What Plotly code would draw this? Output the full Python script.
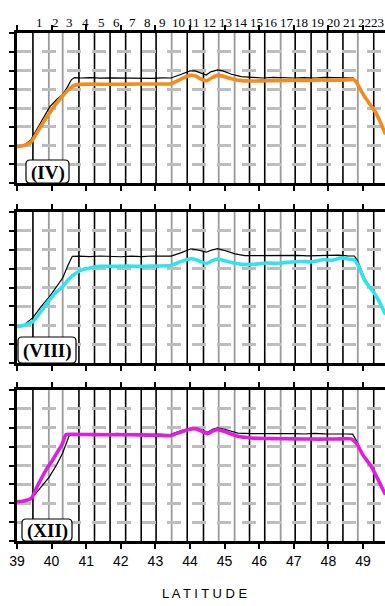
import plotly.graph_objects as go

# ---------------- data ----------------
# station latitudes (numbered 1..23 along the top) and line shade
station_lat = [39.46, 39.92, 40.32, 40.79, 41.24, 41.69, 42.14, 42.59, 43.02, 43.47,
               43.92, 44.39, 44.83, 45.29, 45.72, 46.16, 46.62, 47.04, 47.50, 47.97,
               48.42, 48.85, 49.31]
station_shade = ["k", "g", "g", "k", "k", "k", "k", "k", "k", "g",
                 "k", "k", "g", "g", "k", "k", "g", "k", "k", "k",
                 "k", "g", "k"]
station_num = [str(i) for i in range(1, 24)]

lat_ticks = [39, 40, 41, 42, 43, 44, 45, 46, 47, 48, 49]

# (IV) April
iv_lat = [39.00, 39.20, 39.40, 39.60, 39.80, 39.95, 40.10, 40.30, 40.50, 40.65, 40.80,
          41.50, 42.00, 42.50, 43.00, 43.45, 43.75, 44.00, 44.15, 44.30, 44.48, 44.62,
          44.80, 44.95, 45.20, 45.50, 45.80, 46.20, 46.60, 47.00, 47.40, 47.80, 48.20,
          48.50, 48.72, 48.80, 48.95, 49.05, 49.20, 49.38, 49.50, 49.65]
iv_val = [1.94, 2.00, 2.18, 2.75, 3.35, 3.75, 4.15, 4.60, 5.00, 5.20, 5.26,
          5.27, 5.27, 5.28, 5.28, 5.30, 5.55, 5.74, 5.72, 5.56, 5.45, 5.60,
          5.74, 5.70, 5.56, 5.46, 5.44, 5.45, 5.46, 5.48, 5.47, 5.49, 5.48,
          5.50, 5.52, 5.40, 4.90, 4.60, 4.20, 3.72, 3.25, 2.60]
iv_ref_lat = [39.00, 39.20, 39.40, 39.60, 39.80, 39.95, 40.15, 40.32, 40.45, 40.57, 40.66,
              40.85, 41.10, 41.40, 41.70, 42.00, 42.30, 42.60, 42.90, 43.20, 43.45,
              43.75, 44.00, 44.15, 44.30, 44.47, 44.60, 44.80, 44.95, 45.20, 45.48,
              45.80, 46.10, 46.40, 46.70, 47.00, 47.30, 47.60, 47.90, 48.20, 48.50,
              48.72, 48.80, 48.95, 49.05, 49.20, 49.38, 49.50, 49.65]
iv_ref_val = [1.94, 2.02, 2.30, 2.95, 3.55, 4.07, 4.45, 4.72, 5.10, 5.50, 5.62,
              5.60, 5.62, 5.59, 5.61, 5.60, 5.63, 5.60, 5.58, 5.61, 5.60,
              5.80, 5.98, 5.98, 5.88, 5.76, 5.93, 6.03, 5.98, 5.80, 5.67,
              5.62, 5.60, 5.63, 5.61, 5.60, 5.62, 5.60, 5.63, 5.61, 5.60,
              5.60, 5.42, 4.92, 4.60, 4.20, 3.72, 3.25, 2.60]

# (VIII) August
viii_lat = [39.00, 39.20, 39.46, 39.70, 39.94, 40.10, 40.32, 40.50, 40.71, 40.90, 41.10,
            41.38, 41.80, 42.20, 42.60, 43.00, 43.43, 43.70, 44.03, 44.20, 44.47, 44.62,
            44.80, 45.00, 45.30, 45.67, 46.00, 46.20, 46.50, 46.80, 47.20, 47.50, 47.89,
            48.10, 48.37, 48.60, 48.75, 48.85, 49.04, 49.20, 49.33, 49.50, 49.65]
viii_val = [1.92, 2.00, 2.19, 2.75, 3.34, 3.70, 4.05, 4.45, 4.77, 4.95, 5.03,
            5.12, 5.12, 5.13, 5.12, 5.14, 5.16, 5.35, 5.52, 5.46, 5.27, 5.40,
            5.51, 5.42, 5.28, 5.21, 5.26, 5.30, 5.28, 5.33, 5.38, 5.36, 5.48,
            5.44, 5.57, 5.50, 5.46, 5.20, 4.41, 4.00, 3.70, 3.15, 2.55]
viii_ref_lat = [39.00, 39.20, 39.46, 39.70, 39.94, 40.15, 40.32, 40.48, 40.60, 40.80,
                41.10, 41.40, 41.70, 42.00, 42.30, 42.60, 42.90, 43.20, 43.46, 43.75,
                44.03, 44.20, 44.47, 44.62, 44.80, 45.00, 45.30, 45.58, 45.90, 46.20,
                46.50, 46.80, 47.10, 47.40, 47.70, 48.00, 48.30, 48.55, 48.75, 48.85,
                49.04, 49.20, 49.33, 49.50, 49.65]
viii_ref_val = [1.92, 2.02, 2.40, 3.00, 3.52, 4.05, 4.50, 5.20, 5.65, 5.66,
                5.64, 5.67, 5.65, 5.63, 5.66, 5.64, 5.67, 5.65, 5.66, 5.85,
                6.05, 6.00, 5.87, 5.98, 6.06, 5.96, 5.78, 5.69, 5.70, 5.68,
                5.71, 5.69, 5.70, 5.68, 5.70, 5.69, 5.71, 5.68, 5.67, 5.40,
                4.50, 4.02, 3.70, 3.15, 2.55]

# (XII) December
xii_lat = [39.00, 39.20, 39.41, 39.60, 39.84, 40.00, 40.18, 40.30, 40.42, 40.60, 41.00,
           41.50, 42.00, 42.50, 43.00, 43.43, 43.70, 43.99, 44.18, 44.35, 44.51, 44.65,
           44.80, 45.00, 45.38, 45.77, 46.20, 46.60, 47.00, 47.50, 48.00, 48.40, 48.66,
           48.80, 49.00, 49.24, 49.45, 49.65]
xii_val = [2.08, 2.12, 2.26, 2.95, 3.77, 4.20, 4.75, 5.10, 5.64, 5.65, 5.64,
           5.63, 5.63, 5.62, 5.60, 5.58, 5.75, 5.92, 5.94, 5.80, 5.69, 5.82,
           5.90, 5.80, 5.55, 5.46, 5.43, 5.42, 5.41, 5.40, 5.40, 5.41, 5.41,
           5.20, 4.55, 3.95, 3.20, 2.45]
xii_ref_lat = [39.00, 39.20, 39.41, 39.70, 39.94, 40.15, 40.32, 40.52, 40.70, 41.00,
               41.30, 41.60, 41.90, 42.20, 42.50, 42.80, 43.10, 43.43, 43.70, 43.99,
               44.18, 44.35, 44.51, 44.65, 44.80, 45.00, 45.38, 45.77, 46.10, 46.40,
               46.70, 47.00, 47.30, 47.60, 47.90, 48.20, 48.50, 48.70, 48.80, 49.00,
               49.24, 49.45, 49.65]
xii_ref_val = [2.08, 2.10, 2.22, 2.90, 3.41, 4.05, 4.66, 5.64, 5.68, 5.66,
               5.69, 5.67, 5.70, 5.66, 5.68, 5.65, 5.67, 5.64, 5.82, 5.97,
               6.00, 5.88, 5.76, 5.92, 6.00, 5.92, 5.72, 5.69, 5.70, 5.68,
               5.70, 5.69, 5.67, 5.70, 5.68, 5.69, 5.67, 5.66, 5.35, 4.60,
               3.97, 3.20, 2.45]

panels = [
    ("(IV)", iv_lat, iv_val, iv_ref_lat, iv_ref_val, "#F28C1E"),
    ("(VIII)", viii_lat, viii_val, viii_ref_lat, viii_ref_val, "#2FE4EE"),
    ("(XII)", xii_lat, xii_val, xii_ref_lat, xii_ref_val, "#DF1FDF"),
]

# ---------------- layout geometry (pixels) ----------------
W, H = 385, 606
ML = 17
PW = W - ML
PX_PER_DEG = 34.6
x_range = [39, 39 + PW / PX_PER_DEG]
panel_px = [(33, 183), (212, 363), (390, 541)]
label_boxes = [(26, 160, 69, 183), (18, 337, 76, 363), (22, 519, 72, 541)]


def px_x(x):
    return (x - ML) / PW


def px_y(y):
    return 1 - y / H


def rounded_box(x0, y0, x1, y1, r=4):
    X0, X1 = px_x(x0), px_x(x1)
    Y0, Y1 = px_y(y0), px_y(y1)
    rx, ry = r / PW, r / H
    return (f"M {X0 + rx},{Y0} L {X1 - rx},{Y0} Q {X1},{Y0} {X1},{Y0 - ry} "
            f"L {X1},{Y1 + ry} Q {X1},{Y1} {X1 - rx},{Y1} "
            f"L {X0 + rx},{Y1} Q {X0},{Y1} {X0},{Y1 + ry} "
            f"L {X0},{Y0 - ry} Q {X0},{Y0} {X0 + rx},{Y0} Z")


fig = go.Figure()
shapes = []
annotations = []
layout = {}

for i, (name, lat, val, rlat, rval, color) in enumerate(panels):
    n = "" if i == 0 else str(i + 1)
    xa, ya = "x" + n, "y" + n
    top, bot = panel_px[i]

    fig.add_trace(go.Scatter(x=rlat, y=rval, mode="lines", xaxis=xa, yaxis=ya,
                             line=dict(color="black", width=1.2), hoverinfo="skip",
                             showlegend=False))
    fig.add_trace(go.Scatter(x=lat, y=val, mode="lines", xaxis=xa, yaxis=ya,
                             line=dict(color=color, width=3.6, shape="spline",
                                       smoothing=0.6),
                             hoverinfo="skip", showlegend=False))

    layout["xaxis" + n] = dict(
        domain=[0, 1], anchor=ya, range=x_range, tickvals=lat_ticks,
        ticktext=[str(t) for t in lat_ticks], showticklabels=(i == 2),
        ticks="outside", ticklen=5, tickwidth=1.6, tickcolor="black",
        showline=True, linewidth=3, linecolor="black", mirror="ticks",
        showgrid=False, zeroline=False,
        tickfont=dict(family="Liberation Sans, Arial, sans-serif", size=14,
                      color="black"),
    )
    layout["yaxis" + n] = dict(
        domain=[px_y(bot), px_y(top)], anchor=xa, range=[0, 8], tick0=0, dtick=1,
        ticks="outside", ticklen=5, tickwidth=1.6, tickcolor="black",
        showticklabels=False, showline=True, linewidth=2.5, linecolor="black",
        mirror=False, zeroline=False, showgrid=True, gridcolor="#BDBDBD",
        gridwidth=2.6, griddash="14px,11px",
    )

    # station lines
    for s_lat, shade in zip(station_lat, station_shade):
        shapes.append(dict(
            type="line", xref=xa, yref=ya + " domain", x0=s_lat, x1=s_lat, y0=0, y1=1,
            line=dict(color="black" if shade == "k" else "#9A9A9A",
                      width=1.6 if shade == "k" else 1.8),
            layer="below",
        ))

    # panel label
    bx0, by0, bx1, by1 = label_boxes[i]
    shapes.append(dict(type="path", xref="paper", yref="paper",
                       path=rounded_box(bx0, by0, bx1, by1),
                       fillcolor="white", line=dict(color="black", width=1.2),
                       layer="above"))
    annotations.append(dict(
        x=px_x((bx0 + bx1) / 2), y=px_y((by0 + by1) / 2 + 1), xref="paper",
        yref="paper", text="<b>" + name + "</b>", showarrow=False,
        xanchor="center", yanchor="middle",
        font=dict(family="Liberation Serif, Times New Roman, serif", size=19,
                  color="black"),
    ))

# station numbers along the top (the last one nudged in to stay on the page)
for k, (s_lat, lab) in enumerate(zip(station_lat, station_num)):
    shift = 6.5 if k < len(station_lat) - 1 else 3.5
    annotations.append(dict(
        x=s_lat, y=px_y(22.5), xref="x", yref="paper", text=lab, showarrow=False,
        xshift=shift, xanchor="center", yanchor="middle",
        font=dict(family="Liberation Serif, Times New Roman, serif", size=13,
                  color="black"),
    ))

annotations.append(dict(
    x=px_x(205), y=px_y(593), xref="paper", yref="paper",
    text="L A T I T U D E", showarrow=False, xanchor="center", yanchor="middle",
    font=dict(family="Liberation Sans, Arial, sans-serif", size=13, color="black"),
))

fig.update_layout(
    width=W, height=H,
    margin=dict(l=ML, r=0, t=0, b=0, autoexpand=False),
    paper_bgcolor="white", plot_bgcolor="white",
    shapes=shapes, annotations=annotations, showlegend=False,
    **layout,
)

fig.write_html("out.html", config={"displayModeBar": False})
